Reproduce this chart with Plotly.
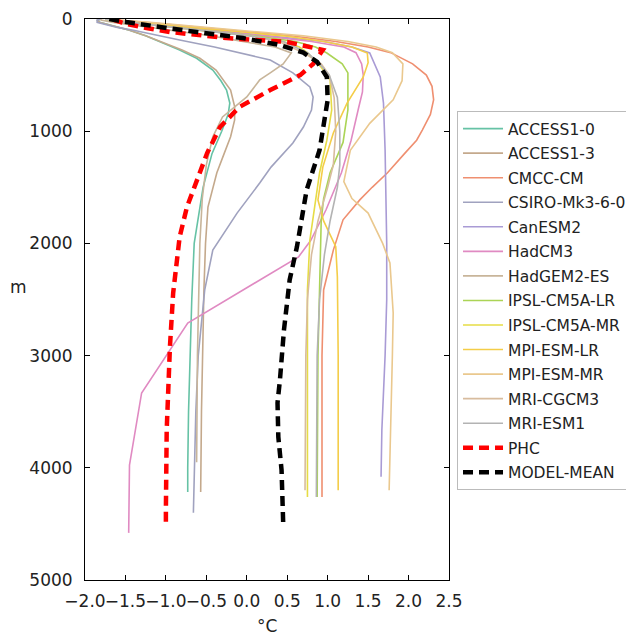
import plotly.graph_objects as go

# ---- data: depth (m) and temperature (degC) per profile ----
access10_depth = [0, 10, 30, 50, 100, 150, 200, 276, 350, 455, 550, 633, 750, 850, 1000, 1200, 1500, 2000, 2500, 3000, 3500, 4000, 4215]
access10_temp = [-1.80, -1.85, -1.82, -1.72, -1.45, -1.25, -1.08, -0.83, -0.62, -0.42, -0.32, -0.25, -0.21, -0.23, -0.31, -0.43, -0.54, -0.65, -0.68, -0.70, -0.72, -0.73, -0.73]

access13_depth = [0, 10, 30, 50, 100, 150, 200, 276, 350, 455, 633, 780, 900, 1050, 1200, 1370, 1676, 2000, 2415, 3000, 3500, 4215]
access13_temp = [-1.80, -1.85, -1.82, -1.72, -1.45, -1.25, -1.07, -0.80, -0.58, -0.38, -0.20, -0.15, -0.15, -0.20, -0.28, -0.37, -0.48, -0.51, -0.53, -0.55, -0.56, -0.57]

cmcc_depth = [0, 10, 30, 50, 75, 100, 125, 150, 200, 250, 300, 400, 500, 600, 720, 850, 990, 1080, 1200, 1370, 1500, 1610, 1790, 2060, 2415, 3000, 4260]
cmcc_temp = [-1.70, -1.62, -1.25, -0.95, -0.60, -0.20, 0.20, 0.55, 1.10, 1.50, 1.78, 2.05, 2.22, 2.29, 2.31, 2.27, 2.17, 2.10, 1.95, 1.74, 1.55, 1.40, 1.19, 1.07, 0.95, 0.93, 0.93]

csiro_depth = [0, 10, 30, 50, 75, 100, 150, 187, 250, 300, 340, 365, 480, 606, 695, 811, 963, 1105, 1320, 1462, 1730, 2060, 2415, 3000, 3500, 4000, 4400]
csiro_temp = [-1.80, -1.85, -1.85, -1.75, -1.60, -1.40, -1.05, -0.83, -0.40, -0.10, 0.16, 0.29, 0.57, 0.78, 0.82, 0.80, 0.70, 0.57, 0.30, 0.16, -0.12, -0.42, -0.52, -0.60, -0.63, -0.65, -0.66]

canesm2_depth = [0, 10, 30, 50, 75, 100, 125, 150, 200, 250, 303, 517, 750, 1168, 2000, 2500, 3000, 3663, 4080]
canesm2_temp = [-1.75, -1.70, -1.40, -1.15, -0.80, -0.40, -0.05, 0.30, 0.95, 1.30, 1.52, 1.65, 1.69, 1.71, 1.73, 1.73, 1.71, 1.67, 1.66]

hadcm3_depth = [0, 10, 30, 50, 75, 100, 125, 150, 200, 250, 300, 400, 500, 650, 800, 900, 1080, 1370, 1700, 1975, 2120, 2710, 3333, 3975, 4580]
hadcm3_temp = [-1.75, -1.70, -1.45, -1.20, -0.85, -0.50, -0.15, 0.20, 0.80, 1.20, 1.35, 1.42, 1.44, 1.43, 1.38, 1.35, 1.29, 1.17, 0.98, 0.79, 0.64, -0.73, -1.30, -1.45, -1.46]

hadgem2_depth = [0, 10, 30, 50, 75, 100, 150, 200, 250, 303, 400, 480, 543, 695, 873, 1050, 1300, 1600, 2000, 3000, 3950]
hadgem2_temp = [-1.80, -1.80, -1.65, -1.45, -1.20, -0.95, -0.45, -0.05, 0.35, 0.55, 0.45, 0.29, 0.16, 0.00, -0.30, -0.42, -0.50, -0.55, -0.58, -0.61, -0.62]

ipsllr_depth = [0, 10, 30, 50, 75, 100, 150, 200, 250, 303, 400, 480, 810, 1100, 1370, 1600, 1800, 2400, 3000, 4260]
ipsllr_temp = [-1.75, -1.70, -1.45, -1.20, -0.85, -0.50, 0.10, 0.60, 0.85, 0.99, 1.18, 1.25, 1.25, 1.19, 1.03, 0.95, 0.92, 0.90, 0.88, 0.87]

ipslmr_depth = [0, 10, 30, 50, 75, 100, 150, 200, 250, 300, 430, 543, 811, 1080, 1370, 1970, 2415, 3000, 4260]
ipslmr_temp = [-1.75, -1.70, -1.45, -1.20, -0.85, -0.50, 0.05, 0.45, 0.65, 0.75, 0.92, 1.03, 1.05, 0.99, 0.90, 0.78, 0.75, 0.75, 0.75]

mpilr_depth = [0, 10, 30, 50, 75, 100, 125, 150, 200, 250, 303, 390, 517, 750, 1016, 1320, 1613, 1800, 2030, 2300, 3000, 4200]
mpilr_temp = [-1.70, -1.65, -1.35, -1.05, -0.70, -0.30, 0.10, 0.45, 0.95, 1.30, 1.49, 1.50, 1.44, 1.24, 1.07, 0.94, 0.88, 0.95, 1.10, 1.12, 1.13, 1.13]

mpimr_depth = [0, 10, 30, 50, 75, 100, 125, 150, 200, 250, 300, 400, 550, 720, 930, 1170, 1450, 1600, 1730, 2000, 2175, 2620, 3000, 3500, 4200]
mpimr_temp = [-1.70, -1.60, -1.20, -0.90, -0.50, -0.10, 0.30, 0.70, 1.25, 1.60, 1.80, 1.93, 1.92, 1.81, 1.52, 1.28, 1.20, 1.30, 1.50, 1.68, 1.77, 1.81, 1.80, 1.78, 1.76]

mricgcm3_depth = [0, 10, 30, 50, 75, 100, 150, 200, 300, 400, 500, 700, 1000, 1300, 1500, 1800, 2100, 2500, 3000, 4200]
mricgcm3_temp = [-1.75, -1.70, -1.45, -1.20, -0.85, -0.50, 0.05, 0.40, 0.70, 0.92, 1.02, 1.08, 1.10, 1.07, 1.00, 0.88, 0.80, 0.75, 0.73, 0.72]

mriesm1_depth = [0, 10, 30, 50, 75, 100, 150, 200, 300, 400, 500, 700, 1000, 1300, 1500, 1800, 2100, 2500, 3000, 4260]
mriesm1_temp = [-1.75, -1.70, -1.45, -1.20, -0.85, -0.50, 0.05, 0.45, 0.75, 0.90, 1.02, 1.12, 1.15, 1.15, 1.12, 1.03, 0.96, 0.90, 0.87, 0.86]

phc_depth = [0, 10, 30, 50, 80, 116, 170, 205, 276, 400, 500, 633, 784, 962, 1195, 1435, 1676, 1943, 2264, 2442, 2923, 3663, 4376, 4500]
phc_temp = [-1.65, -1.63, -1.55, -1.45, -1.24, -0.95, -0.25, 0.50, 0.94, 0.82, 0.66, 0.29, -0.09, -0.33, -0.49, -0.62, -0.74, -0.83, -0.89, -0.91, -0.95, -0.99, -1.00, -1.00]

mean_depth = [0, 27, 80, 125, 170, 232, 300, 383, 517, 722, 990, 1168, 1524, 2030, 2326, 2770, 3217, 3420, 3725, 4020, 4490]
mean_temp = [-1.70, -1.49, -0.99, -0.54, -0.05, 0.41, 0.70, 0.87, 0.99, 1.00, 0.94, 0.90, 0.74, 0.62, 0.53, 0.46, 0.41, 0.38, 0.39, 0.43, 0.45]

model_names = ["ACCESS1-0", "ACCESS1-3", "CMCC-CM", "CSIRO-Mk3-6-0", "CanESM2", "HadCM3",
               "HadGEM2-ES", "IPSL-CM5A-LR", "IPSL-CM5A-MR", "MPI-ESM-LR", "MPI-ESM-MR",
               "MRI-CGCM3", "MRI-ESM1"]
model_colors = ["#66c2a5", "#c4a98c", "#ef8f70", "#a0a2bf", "#a99bd5", "#e08ac2",
                "#c8b59a", "#abd456", "#e6dc45", "#f4cd48", "#eac88e",
                "#d8bc9e", "#b3b3b3"]

model_depths = [access10_depth, access13_depth, cmcc_depth, csiro_depth, canesm2_depth, hadcm3_depth,
                hadgem2_depth, ipsllr_depth, ipslmr_depth, mpilr_depth, mpimr_depth,
                mricgcm3_depth, mriesm1_depth]
model_temps = [access10_temp, access13_temp, cmcc_temp, csiro_temp, canesm2_temp, hadcm3_temp,
               hadgem2_temp, ipsllr_temp, ipslmr_temp, mpilr_temp, mpimr_temp,
               mricgcm3_temp, mriesm1_temp]

x_ticks = [-2.0, -1.5, -1.0, -0.5, 0.0, 0.5, 1.0, 1.5, 2.0, 2.5]
y_ticks = [0, 1000, 2000, 3000, 4000, 5000]

FONT = "DejaVu Sans"

fig = go.Figure()
for i, name in enumerate(model_names):
    fig.add_trace(go.Scatter(
        x=model_temps[i], y=model_depths[i], mode="lines", name=name,
        legendgroup=name,
        line=dict(color=model_colors[i], width=1.6),
    ))

fig.add_trace(go.Scatter(
    x=phc_temp, y=phc_depth, mode="lines", name="PHC", legendgroup="PHC",
    line=dict(color="#ff0000", width=4.5, dash="10px,6px"),
))
fig.add_trace(go.Scatter(
    x=mean_temp, y=mean_depth, mode="lines", name="MODEL-MEAN", legendgroup="MEAN",
    line=dict(color="#000000", width=4.5, dash="10px,6px"),
))

axis_common = dict(
    showgrid=False, zeroline=False, showline=True, linecolor="black", linewidth=1,
    mirror="ticks", ticks="inside", ticklen=5, tickwidth=1, tickcolor="black",
    tickfont=dict(family=FONT, size=17, color="#222222"),
    automargin=False,
)

fig.update_layout(
    width=626, height=629,
    margin=dict(l=77, r=185, t=11, b=57, autoexpand=False),
    paper_bgcolor="white", plot_bgcolor="white",
    font=dict(family=FONT, color="#222222"),
    xaxis=dict(range=[-2.0, 2.5], tickvals=x_ticks, tickformat=".1f", tickangle=0,
               ticklabelstandoff=6, **axis_common),
    yaxis=dict(range=[5000, 0], tickvals=y_ticks, ticklabelstandoff=8, **axis_common),
    legend=dict(
        x=1.022, y=0.836, xanchor="left", yanchor="top",
        font=dict(family=FONT, size=15.5, color="#222222"),
        bgcolor="white", bordercolor="#bbbbbb", borderwidth=1,
        tracegroupgap=1.4, itemwidth=40,
    ),
    showlegend=True,
    annotations=[
        dict(text="m", xref="paper", yref="paper", x=-0.183, y=0.522,
             xanchor="center", yanchor="middle", showarrow=False,
             font=dict(family=FONT, size=17, color="#222222")),
        dict(text="°C", xref="paper", yref="paper", x=0.5, y=-0.082,
             xanchor="center", yanchor="middle", showarrow=False,
             font=dict(family=FONT, size=17, color="#222222")),
    ],
)

fig.write_html("out.html")
